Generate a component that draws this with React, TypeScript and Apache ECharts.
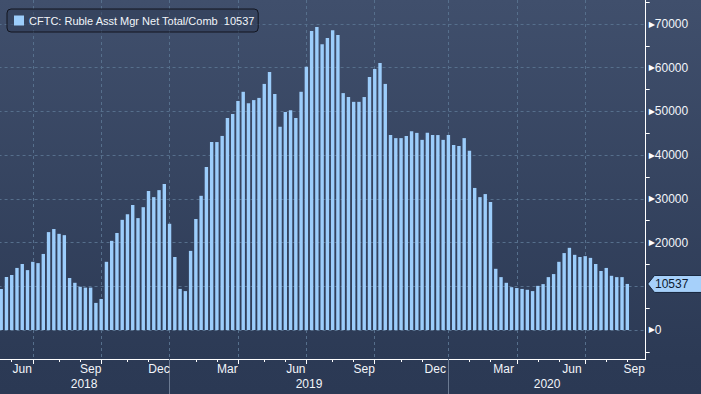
import React, { useEffect, useRef } from 'react';
import * as echarts from 'echarts';

// ---------------- data ----------------
const SERIES_NAME = 'CFTC: Ruble Asst Mgr Net Total/Comb';
const FIRST_WEEK = '2018-05-22'; // first weekly (Tuesday) observation
const EXTRA_WEEKS = 3; // empty weekly slots to the right of the last bar

const netPositions2018 = [
  9400, 12100, 12600, 14200, 15100, 13700, 15600, 15300, 17400, 22400,
  23100, 22000, 21700, 11900, 10800, 9900, 9700, 9700, 6200, 7100,
  15600, 20400, 22200, 25200, 26500, 28600, 25600, 28100, 31800, 30400,
  32000, 33400,
];
const netPositions2019 = [
  24300, 16700, 9400, 8900, 18100, 25400, 30700, 37300, 43000, 43000,
  44400, 48500, 49400, 52400, 54500, 51900, 52600, 53100, 56300, 59000,
  54000, 46500, 49900, 50300, 48500, 54500, 60200, 68400, 69300, 65400,
  66800, 68600, 67500, 54200, 53300, 52200, 52200, 53300, 57900, 59700,
  61100, 56300, 44600, 43900, 43900, 44400, 45500, 45100, 43500, 45100,
  44600, 44600, 43500,
];
const netPositions2020 = [
  44600, 42300, 42100, 43900, 41000, 32500, 30400, 31100, 29300, 14000,
  12100, 10800, 9800, 9600, 9400, 9200, 8900, 10100, 10500, 12100,
  12800, 15600, 17600, 18800, 17200, 16700, 16900, 16500, 15100, 13500,
  14200, 12400, 12100, 12100, 10537,
];
const netPositions = [...netPositions2018, ...netPositions2019, ...netPositions2020];

const yMajorTicks = [0, 10000, 20000, 30000, 40000, 50000, 60000, 70000];
const yMinorTicks = [-5000, 5000, 15000, 25000, 35000, 45000, 55000, 65000, 75000];
const Y_MIN = -6635;
const Y_MAX = 75500;
const monthNames = ['Jan', 'Feb', 'Mar', 'Apr', 'May', 'Jun', 'Jul', 'Aug', 'Sep', 'Oct', 'Nov', 'Dec'];
const labelledMonths = [2, 5, 8, 11];

// ---------------- styles ----------------
const BAR = '#9ccdfb';
const GRID_LINE = '#566f8c';
const TEXT = '#f2f5fa';
const FONT = 'Liberation Sans';

// ---------------- derived axis positions (in weekly-slot units) ----------------
const DAY = 86400000;
const startMs = Date.parse(FIRST_WEEK + 'T00:00:00Z');
const slotDate = (i: number) => new Date(startMs + i * 7 * DAY);
const X_MIN = -0.5;
const X_MAX = netPositions.length - 1 + EXTRA_WEEKS + 0.5;

type MonthStart = { idx: number; month: number; year: number };
const monthStarts: MonthStart[] = [];
for (let i = 1; i < netPositions.length + EXTRA_WEEKS + 10; i++) {
  const d = slotDate(i);
  const p = slotDate(i - 1);
  if (d.getUTCMonth() !== p.getUTCMonth()) {
    monthStarts.push({ idx: i, month: d.getUTCMonth(), year: d.getUTCFullYear() });
  }
}
const inRange = (m: MonthStart) => m.idx <= X_MAX;
const monthTicks = monthStarts.filter(inRange).map((m) => m.idx);
const quarterTicks = monthStarts.filter((m) => inRange(m) && m.month % 3 === 0).map((m) => m.idx);
const monthLabels: { pos: number; text: string }[] = [];
monthStarts.forEach((m, k) => {
  if (!inRange(m) || labelledMonths.indexOf(m.month) < 0) return;
  const next = monthStarts[k + 1] ? monthStarts[k + 1].idx : m.idx + 4;
  monthLabels.push({ pos: Math.min((m.idx + next) / 2, X_MAX - 2.2), text: monthNames[m.month] });
});
const yearTicks = monthStarts.filter((m) => inRange(m) && m.month === 0).map((m) => m.idx);
const yearBounds = [X_MIN, ...yearTicks, X_MAX];
const firstYear = slotDate(0).getUTCFullYear();
const yearLabels = yearBounds.slice(0, -1).map((b, k) => ({
  pos: (b + yearBounds[k + 1]) / 2,
  text: String(firstYear + k),
}));
const lookup = (list: { pos: number; text: string }[], v: number) => {
  const f = list.find((l) => Math.abs(l.pos - v) < 0.01);
  return f ? f.text : '';
};

const lastValue = netPositions[netPositions.length - 1];
// the last-value tag hides the tick label it covers
const yLabelValues = yMajorTicks.filter((v) => Math.abs(v - lastValue) > 3500);

const tagSvg =
  '<svg xmlns="http://www.w3.org/2000/svg" width="56" height="18" viewBox="0 0 56 18" preserveAspectRatio="none">' +
  '<path d="M0.7 9 L7.5 0.5 H55.5 V17.5 H7.5 Z" fill="#a6d0fa" stroke="#16243b" stroke-width="1"/></svg>';
const tagUrl = 'data:image/svg+xml;charset=utf-8,' + encodeURIComponent(tagSvg);

export default function App() {
  const ref = useRef<HTMLDivElement>(null);
  useEffect(() => {
    if (!ref.current) return;
    const chart = echarts.init(ref.current, undefined, { renderer: 'svg' });
    const baseX = {
      type: 'value',
      min: X_MIN,
      max: X_MAX,
      position: 'bottom',
      axisLine: { show: false, onZero: false },
      splitLine: { show: false },
      axisLabel: { show: false },
      axisTick: { show: false },
    };
    const baseY = {
      type: 'value',
      min: Y_MIN,
      max: Y_MAX,
      position: 'right',
      axisLine: { show: false, onZero: false },
      splitLine: { show: false },
      axisLabel: { show: false },
      axisTick: { show: false },
    };
    chart.setOption({
      animation: false,
      backgroundColor: new echarts.graphic.LinearGradient(0, 0, 0, 1, [
        { offset: 0, color: '#404f6c' },
        { offset: 0.91, color: '#2c3a55' },
        { offset: 1, color: '#2b3954' },
      ]),
      textStyle: { fontFamily: FONT },
      grid: { left: -1.43, right: 55.3, top: 0, bottom: 35, containLabel: false, outerBoundsMode: 'none' },
      legend: {
        left: 7,
        top: 9,
        padding: [6, 3, 6, 7],
        icon: 'rect',
        itemWidth: 10,
        itemHeight: 10,
        selectedMode: false,
        backgroundColor: 'rgba(45,58,84,0.5)',
        borderColor: '#12151f',
        borderWidth: 1,
        borderRadius: 4,
        textStyle: { color: TEXT, fontSize: 11, fontFamily: FONT },
        formatter: (name: string) => `${name}  ${lastValue}`,
      },
      xAxis: [
        {
          ...baseX,
          axisLine: { show: true, onZero: false, lineStyle: { color: '#ffffff', width: 1 } },
          axisTick: { show: true, customValues: quarterTicks, length: 5, lineStyle: { color: '#ffffff' } },
          splitLine: { show: true, lineStyle: { color: GRID_LINE, type: [3, 3], width: 1 } },
          axisLabel: {
            show: true,
            customValues: monthLabels.map((l) => l.pos),
            formatter: (v: number) => lookup(monthLabels, v),
            color: TEXT,
            fontSize: 12,
            margin: 4,
          },
        },
        {
          ...baseX,
          axisTick: { show: true, customValues: monthTicks, length: 3, lineStyle: { color: '#ffffff' } },
        },
        {
          ...baseX,
          axisTick: { show: true, customValues: yearTicks, length: 35, lineStyle: { color: '#6b7a92' } },
          axisLabel: {
            show: true,
            customValues: yearLabels.map((l) => l.pos),
            formatter: (v: number) => lookup(yearLabels, v),
            color: TEXT,
            fontSize: 12,
            margin: 19,
          },
        },
      ],
      yAxis: [
        {
          ...baseY,
          axisLine: { show: true, onZero: false, lineStyle: { color: '#ffffff', width: 1 } },
          axisTick: { show: false, customValues: yMajorTicks },
          splitLine: { show: true, lineStyle: { color: GRID_LINE, type: [3, 3], width: 1 } },
          axisLabel: {
            show: true,
            customValues: yLabelValues,
            margin: 3,
            formatter: (v: number) => `{t|\u25B6}{v|${v}}`,
            rich: {
              t: { fontFamily: 'DejaVu Sans', fontSize: 8, color: '#ffffff' },
              v: { fontSize: 12, color: TEXT, fontFamily: FONT },
            },
          },
        },
        {
          ...baseY,
          axisTick: { show: true, customValues: yMinorTicks, length: 4, lineStyle: { color: '#ffffff' } },
        },
        {
          ...baseY,
          axisLabel: {
            show: true,
            customValues: [lastValue],
            margin: 1.3,
            formatter: (v: number) => `{tag|${v}}`,
            rich: {
              tag: {
                backgroundColor: { image: tagUrl },
                width: 48,
                height: 18,
                lineHeight: 18,
                padding: [0, 0, 0, 8],
                color: '#0c1a30',
                fontSize: 12,
                fontFamily: FONT,
              },
            },
          },
        },
      ],
      series: [
        {
          type: 'bar',
          name: SERIES_NAME,
          xAxisIndex: 0,
          yAxisIndex: 0,
          barWidth: 3.4,
          itemStyle: { color: BAR },
          silent: true,
          data: netPositions.map((v, i) => [i, v]),
        },
      ],
    });
    return () => chart.dispose();
  }, []);
  return <div ref={ref} style={{ position: 'fixed', left: 0, top: 0, width: 701, height: 394 }} />;
}
